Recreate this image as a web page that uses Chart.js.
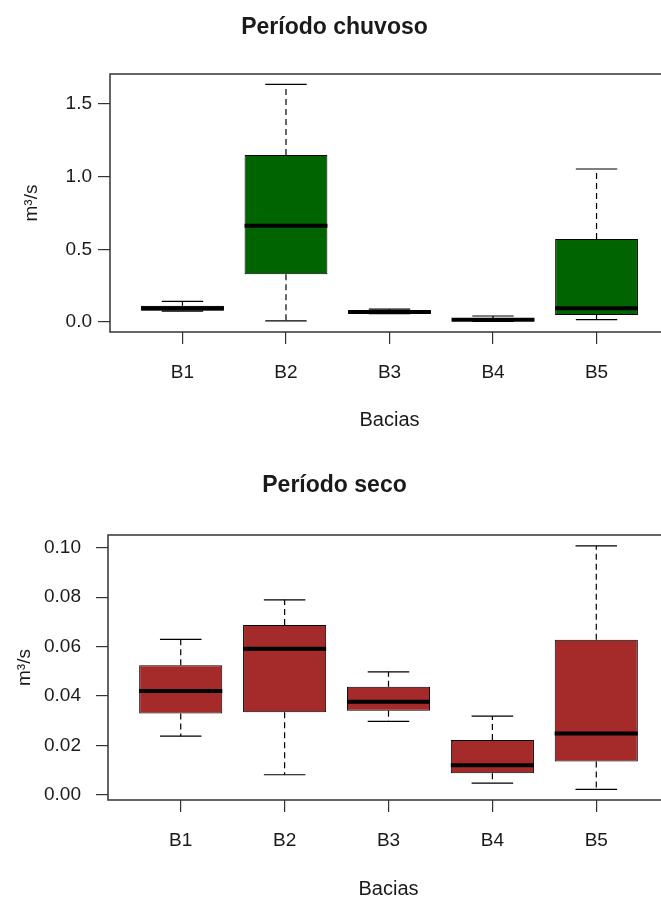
<!DOCTYPE html>
<html>
<head>
<meta charset="utf-8">
<title>Período chuvoso / Período seco</title>
<script src="https://cdn.jsdelivr.net/npm/chart.js@4/dist/chart.umd.min.js"></script>
<style>
  html, body { margin: 0; padding: 0; background: #fff; overflow: hidden; }
  #page { position: relative; width: 661px; height: 903px; overflow: hidden; }
  canvas { position: absolute; left: 0; }
  #chuvoso { top: 0; }
  #seco { top: 452px; }
</style>
</head>
<body>
<div id="page">
  <canvas id="chuvoso" width="780" height="452"></canvas>
  <canvas id="seco" width="780" height="451"></canvas>
</div>
<script>
"use strict";

// bacias (categories)
const bacias = ["B1", "B2", "B3", "B4", "B5"];

// Período chuvoso, m³/s
const chuvosoMin = [0.075, 0.007, 0.057, 0.004, 0.016];
const chuvosoQ1 = [0.078, 0.328, 0.06, 0.007, 0.048];
const chuvosoMed = [0.095, 0.663, 0.068, 0.016, 0.094];
const chuvosoQ3 = [0.112, 1.149, 0.078, 0.025, 0.571];
const chuvosoMax = [0.142, 1.636, 0.089, 0.041, 1.053];
const chuvosoTicks = [0, 0.5, 1.0, 1.5];

// Período seco, m³/s
const secoMin = [0.0238, 0.0082, 0.0298, 0.0048, 0.0023];
const secoQ1 = [0.033, 0.0335, 0.0341, 0.0088, 0.0136];
const secoMed = [0.0421, 0.0591, 0.0377, 0.012, 0.0249];
const secoQ3 = [0.0525, 0.0687, 0.0438, 0.0222, 0.0628];
const secoMax = [0.0629, 0.0789, 0.0498, 0.0319, 0.1007];
const secoTicks = [0, 0.02, 0.04, 0.06, 0.08, 0.1];

const FONT = "'Liberation Sans', Arial, sans-serif";
const INK = "#1a1a1a";

// whiskers, caps, medians and the frame, drawn through the chart's scales
const boxplotExtras = {
  id: "boxplotExtras",
  afterDatasetsDraw(chart, args, opts) {
    const { ctx, chartArea } = chart;
    const x = chart.scales.x;
    const y = chart.scales.y;
    ctx.save();
    ctx.beginPath();
    ctx.rect(chartArea.left, chartArea.top, chartArea.right - chartArea.left, chartArea.bottom - chartArea.top);
    ctx.clip();
    ctx.strokeStyle = "#000";
    opts.med.forEach((m, i) => {
      const cx = x.getPixelForValue(i + 1);
      const capL = x.getPixelForValue(i + 1 - 0.2);
      const capR = x.getPixelForValue(i + 1 + 0.2);
      const boxL = x.getPixelForValue(i + 1 - 0.4);
      const boxR = x.getPixelForValue(i + 1 + 0.4);

      // dashed whiskers
      ctx.lineWidth = 1.2;
      ctx.setLineDash([6, 4]);
      ctx.beginPath();
      ctx.moveTo(cx, y.getPixelForValue(opts.q3[i]));
      ctx.lineTo(cx, y.getPixelForValue(opts.max[i]));
      ctx.moveTo(cx, y.getPixelForValue(opts.q1[i]));
      ctx.lineTo(cx, y.getPixelForValue(opts.min[i]));
      ctx.stroke();

      // caps
      ctx.setLineDash([]);
      ctx.beginPath();
      ctx.moveTo(capL, y.getPixelForValue(opts.max[i]));
      ctx.lineTo(capR, y.getPixelForValue(opts.max[i]));
      ctx.moveTo(capL, y.getPixelForValue(opts.min[i]));
      ctx.lineTo(capR, y.getPixelForValue(opts.min[i]));
      ctx.stroke();

      // median
      ctx.lineWidth = 4;
      ctx.beginPath();
      ctx.moveTo(boxL, y.getPixelForValue(m));
      ctx.lineTo(boxR, y.getPixelForValue(m));
      ctx.stroke();
    });
    ctx.restore();

    // frame
    ctx.save();
    ctx.strokeStyle = "#333";
    ctx.lineWidth = 1.5;
    ctx.strokeRect(chartArea.left, chartArea.top, chartArea.right - chartArea.left, chartArea.bottom - chartArea.top);
    ctx.restore();
  }
};

const makeBoxplot = (canvasId, cfg) => {
  const ctx = document.getElementById(canvasId).getContext("2d");
  return new Chart(ctx, {
    type: "bar",
    data: {
      datasets: [
        {
          data: bacias.map((b, i) => ({ x: i + 1, y: [cfg.q1[i], cfg.q3[i]] })),
          backgroundColor: cfg.color,
          borderColor: "#000",
          borderWidth: 1,
          borderSkipped: false,
          categoryPercentage: 1,
          barPercentage: 0.8
        }
      ]
    },
    options: {
      responsive: false,
      animation: false,
      layout: { padding: { left: 0, right: 111, top: 0, bottom: 0 } },
      plugins: {
        legend: { display: false },
        tooltip: { enabled: false },
        title: {
          display: true,
          text: cfg.title,
          color: INK,
          font: { family: FONT, size: 23, weight: "bold" },
          padding: cfg.titlePadding
        },
        boxplotExtras: {
          min: cfg.min,
          q1: cfg.q1,
          med: cfg.med,
          q3: cfg.q3,
          max: cfg.max
        }
      },
      scales: {
        x: {
          type: "linear",
          min: 0.3,
          max: 5.7,
          offset: false,
          afterBuildTicks: scale => {
            scale.ticks = bacias.map((b, i) => ({ value: i + 1 }));
          },
          afterFit: scale => {
            scale.height = cfg.xHeight;
          },
          ticks: {
            callback: v => bacias[v - 1],
            color: INK,
            font: { family: FONT, size: 19 },
            padding: 17,
            maxRotation: 0
          },
          grid: { offset: false, drawOnChartArea: false, drawTicks: true, tickLength: 12, color: "#333", lineWidth: 1.2 },
          border: { display: false },
          title: {
            display: true,
            text: "Bacias",
            color: INK,
            font: { family: FONT, size: 20 },
            padding: { top: 0, bottom: cfg.xTitlePad }
          }
        },
        y: {
          min: cfg.yMin,
          max: cfg.yMax,
          afterBuildTicks: scale => {
            scale.ticks = cfg.ticks.map(v => ({ value: v }));
          },
          afterFit: scale => {
            scale.width = cfg.yWidth;
          },
          ticks: {
            callback: v => v.toFixed(cfg.digits),
            color: INK,
            font: { family: FONT, size: 19 },
            padding: cfg.yTickPad
          },
          grid: { drawOnChartArea: false, drawTicks: true, tickLength: 12, color: "#333", lineWidth: 1.2 },
          border: { display: false },
          title: {
            display: true,
            text: "m³/s",
            color: INK,
            font: { family: FONT, size: 19 },
            padding: { top: cfg.yTitlePad, bottom: 0 }
          }
        }
      }
    },
    plugins: [boxplotExtras]
  });
};

makeBoxplot("chuvoso", {
  title: "Período chuvoso",
  color: "#006400",
  min: chuvosoMin,
  q1: chuvosoQ1,
  med: chuvosoMed,
  q3: chuvosoQ3,
  max: chuvosoMax,
  ticks: chuvosoTicks,
  digits: 1,
  yMin: -0.069,
  yMax: 1.707,
  titlePadding: { top: 14, bottom: 32.4 },
  xHeight: 120,
  xTitlePad: 20,
  yWidth: 110,
  yTickPad: 6,
  yTitlePad: 20
});

makeBoxplot("seco", {
  title: "Período seco",
  color: "#A52A2A",
  min: secoMin,
  q1: secoQ1,
  med: secoMed,
  q3: secoQ3,
  max: secoMax,
  ticks: secoTicks,
  digits: 2,
  yMin: -0.002,
  yMax: 0.1051,
  titlePadding: { top: 20, bottom: 35.4 },
  xHeight: 103,
  xTitlePad: 2,
  yWidth: 108,
  yTickPad: 15,
  yTitlePad: 13
});
</script>
</body>
</html>
